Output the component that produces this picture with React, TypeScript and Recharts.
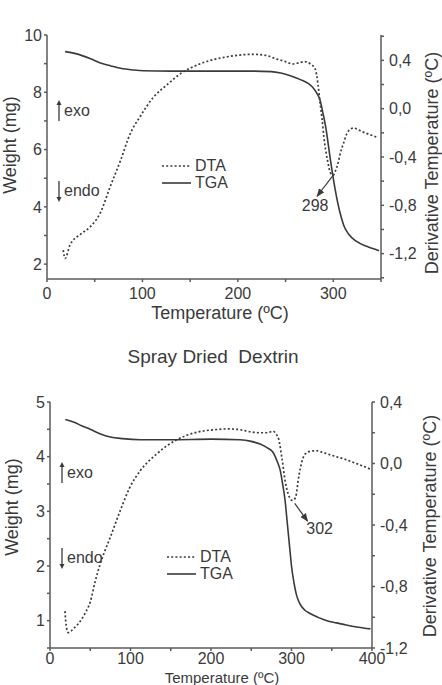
import React from 'react';
import { ComposedChart, Line, XAxis, YAxis, Legend, ReferenceLine, ReferenceDot, Label } from 'recharts';

const FONT = '"Liberation Sans", Arial, Helvetica, sans-serif';
const INK = '#3a3a3a';
const AXIS = '#5a5a5a';

// ---- upper panel (temperature ºC, value) ----
const topTGA: [number, number][] = [
  [19, 9.42], [30, 9.35], [45, 9.18], [56, 9.02], [67, 8.92], [77, 8.84], [90, 8.78],
  [101, 8.75], [130, 8.74], [170, 8.74], [210, 8.74], [235, 8.72], [245, 8.67], [255, 8.58],
  [265, 8.45], [274, 8.3], [279, 8.15], [283, 7.95], [286, 7.74], [289, 7.3], [292, 6.8],
  [297, 5.64], [302, 4.6], [307, 3.8], [311, 3.35], [316, 3.05], [324, 2.8], [335, 2.62], [348, 2.47],
];
const topDTA: [number, number][] = [
  [17, -1.17], [19, -1.24], [24, -1.13], [35, -1.04], [45, -0.98], [56, -0.86], [66, -0.65],
  [77, -0.43], [87, -0.21], [98, -0.06], [111, 0.09], [126, 0.2], [140, 0.29], [160, 0.37],
  [189, 0.43], [216, 0.45], [230, 0.44], [241, 0.41], [250, 0.39], [258, 0.37], [264, 0.38],
  [270, 0.39], [276, 0.37], [281, 0.33], [284, 0.2], [286, 0.06], [288, -0.07], [291, -0.29],
  [294, -0.43], [297, -0.53], [300, -0.55], [302, -0.52], [305, -0.45], [307, -0.38],
  [311, -0.28], [314, -0.21], [318, -0.17], [321, -0.16], [330, -0.19], [340, -0.22], [347, -0.24],
];
const topXTicks = [0, 50, 100, 150, 200, 250, 300, 350];
const topLeftTicks = [2, 3, 4, 5, 6, 7, 8, 9, 10];
const topRightTicks = [-1.4, -1.2, -1.0, -0.8, -0.6, -0.4, -0.2, 0, 0.2, 0.4, 0.6];

// ---- lower panel: Spray Dried Dextrin ----
const lowTGA: [number, number][] = [
  [19, 4.68], [30, 4.63], [40, 4.56], [50, 4.5], [62, 4.42], [75, 4.36], [90, 4.33],
  [112, 4.31], [150, 4.31], [200, 4.32], [236, 4.31], [250, 4.28], [261, 4.23], [270, 4.16],
  [277, 4.08], [282, 3.92], [286, 3.75], [289, 3.5], [292, 3.2], [295, 2.75], [298, 2.3],
  [300, 2.0], [303, 1.7], [306, 1.48], [310, 1.32], [316, 1.2], [323, 1.13], [333, 1.06],
  [344, 1.0], [356, 0.96], [368, 0.92], [383, 0.88], [398, 0.85],
];
const lowDTA: [number, number][] = [
  [18.6, -0.96], [20, -1.05], [22.7, -1.1], [30, -1.07], [37, -1.03], [44, -0.97], [50, -0.9],
  [56, -0.77], [62, -0.66], [68, -0.57], [74.5, -0.485], [87, -0.31], [99, -0.157], [112, -0.048],
  [132, 0.06], [157, 0.153], [182, 0.203], [205, 0.22], [220, 0.225], [236, 0.22], [250, 0.205],
  [261, 0.2], [270, 0.2], [277, 0.21], [281, 0.19], [284, 0.16], [288, 0.04], [292, -0.11],
  [296, -0.2], [301, -0.24], [304, -0.23], [306, -0.2], [308, -0.12], [311, -0.03], [314, 0.03],
  [317, 0.062], [324, 0.08], [331, 0.083], [340, 0.07], [352, 0.05], [365, 0.03], [377, 0.007],
  [388, -0.015], [398, -0.037],
];
const lowXTicks = [0, 50, 100, 150, 200, 250, 300, 350, 400];
const lowLeftTicks = [0.5, 1, 1.5, 2, 2.5, 3, 3.5, 4, 4.5, 5];
const lowRightTicks = [-1.2, -1.0, -0.8, -0.6, -0.4, -0.2, 0, 0.2, 0.4];

const rows = (pts: [number, number][]) => pts.map(([t, v]) => ({ t, v }));

const tickStyle = { fontSize: 16, fill: INK, fontFamily: FONT };
const everyHundred = (v: number) => (v % 100 === 0 ? String(v) : '');
const deriv = (v: number) => (Math.round(v * 10) % 4 === 0 ? v.toFixed(1).replace('.', ',') : '');

const title = (text: string, x: number, y: number, angle = 0, size = 18) => () => (
  <text
    x={x}
    y={y}
    textAnchor="middle"
    dominantBaseline="central"
    transform={angle ? `rotate(${angle} ${x} ${y})` : undefined}
    fontSize={size}
    fill={INK}
    fontFamily={FONT}
  >
    {text}
  </text>
);

const LegendBox = ({ payload }: any) => (
  <div style={{ fontFamily: FONT, fontSize: 16, color: INK, lineHeight: '17px' }}>
    {(payload || []).map((p: any) => (
      <div key={p.value} style={{ display: 'flex', alignItems: 'center' }}>
        <svg width={29} height={6}>
          <line
            x1={0} y1={3} x2={29} y2={3}
            stroke={INK} strokeWidth={1.6}
            strokeDasharray={p.value === 'DTA' ? '2 2.2' : undefined}
          />
        </svg>
        <span style={{ marginLeft: 4 }}>{p.value}</span>
      </div>
    ))}
  </div>
);

const ExoEndo = ({ x, exoY, endoY }: { x: number; exoY: number; endoY: number }) => (
  <>
    {[{ y: exoY, up: true, t: 'exo' }, { y: endoY, up: false, t: 'endo' }].map((a) => (
      <div key={a.t} style={{ position: 'absolute', left: x - 4, top: a.y - 11, display: 'flex', alignItems: 'center' }}>
        <svg width={8} height={22}>
          <line x1={4} y1={a.up ? 4 : 1} x2={4} y2={a.up ? 21 : 18} stroke={INK} strokeWidth={1.3} />
          <path d={a.up ? 'M1.5,5 L4,0 L6.5,5 Z' : 'M1.5,17 L4,22 L6.5,17 Z'} fill={INK} />
        </svg>
        <span style={{ fontFamily: FONT, fontSize: 16, color: INK, marginLeft: 1 }}>{a.t}</span>
      </div>
    ))}
  </>
);

const axisProps = { stroke: AXIS, strokeWidth: 1.5, tick: tickStyle, tickSize: 3 };

export default function App() {
  return (
    <div style={{ position: 'absolute', left: 0, top: 0, width: 442, height: 685, overflow: 'hidden', background: '#fff' }}>
      <svg width={0} height={0} style={{ position: 'absolute' }}>
        <defs>
          <marker id="tip" viewBox="0 0 10 10" refX="9" refY="5" markerWidth="7" markerHeight="7" orient="auto">
            <path d="M0,1 L10,5 L0,9 Z" fill={INK} />
          </marker>
        </defs>
      </svg>

      {/* upper panel */}
      <div style={{ position: 'absolute', left: 0, top: 0, width: 442, height: 330 }}>
        <ComposedChart width={442} height={330} margin={{ top: 35, right: 21, bottom: 21, left: 7 }}>
          <XAxis
            type="number" dataKey="t" domain={[0, 350]} ticks={topXTicks} tickFormatter={everyHundred}
            allowDataOverflow height={30} tickMargin={6} {...axisProps}
          >
            <Label content={title('Temperature (ºC)', 220, 313)} />
          </XAxis>
          <YAxis
            yAxisId="left" domain={[1.48, 10]} ticks={topLeftTicks} allowDataOverflow width={40}
            tickFormatter={(v: number) => (v % 2 === 0 ? String(v) : '')} tickMargin={2} {...axisProps}
          >
            <Label content={title('Weight (mg)', 10, 145, -90)} />
          </YAxis>
          <YAxis
            yAxisId="right" orientation="right" domain={[-1.41, 0.61]} ticks={topRightTicks} allowDataOverflow
            width={40} tickFormatter={deriv} tickMargin={5} {...axisProps}
          >
            <Label content={title('Derivative Temperature (ºC)', 432, 163, -90)} />
          </YAxis>
          <Legend
            layout="vertical" align="center" verticalAlign="middle" content={<LegendBox />}
            wrapperStyle={{ left: 162, top: 157, width: 90 }}
          />
          <Line yAxisId="right" name="DTA" data={rows(topDTA)} dataKey="v" type="monotone" stroke={INK}
            strokeWidth={1.7} strokeDasharray="2 2.2" dot={false} isAnimationActive={false} />
          <Line yAxisId="left" name="TGA" data={rows(topTGA)} dataKey="v" type="monotone" stroke={INK}
            strokeWidth={1.6} dot={false} isAnimationActive={false} />
          <ReferenceLine yAxisId="right" segment={[{ x: 299, y: -0.56 }, { x: 283, y: -0.725 }]}
            stroke={INK} strokeWidth={1.2} markerEnd="url(#tip)" ifOverflow="visible" />
          <ReferenceDot yAxisId="right" x={281} y={-0.8} r={0} fill="none" stroke="none"
            label={{ value: '298', position: 'center', fill: INK, fontSize: 16, fontFamily: FONT }} />
        </ComposedChart>
        <ExoEndo x={59} exoY={111} endoY={191} />
      </div>

      {/* lower panel */}
      <div style={{ position: 'absolute', left: 0, top: 330, width: 442, height: 355 }}>
        <div style={{ position: 'absolute', left: 213, top: 16, transform: 'translateX(-50%)', whiteSpace: 'pre',
          fontFamily: FONT, fontSize: 19, color: INK, lineHeight: '22px' }}>
          Spray Dried  Dextrin
        </div>
        <ComposedChart width={442} height={355} margin={{ top: 72, right: 30, bottom: 7, left: 10 }}>
          <XAxis
            type="number" dataKey="t" domain={[0, 400]} ticks={lowXTicks} tickFormatter={everyHundred}
            allowDataOverflow height={30} tickMargin={2} {...axisProps}
          >
            <Label content={title('Temperature (ºC)', 222, 347, 0, 15)} />
          </XAxis>
          <YAxis
            yAxisId="left" domain={[0.5, 5]} ticks={lowLeftTicks} allowDataOverflow width={40}
            tickFormatter={(v: number) => (Number.isInteger(v) ? String(v) : '')} tickMargin={2} {...axisProps}
          >
            <Label content={title('Weight (mg)', 12, 177, -90)} />
          </YAxis>
          <YAxis
            yAxisId="right" orientation="right" domain={[-1.2, 0.4]} ticks={lowRightTicks} allowDataOverflow
            width={40} tickFormatter={deriv} tickMargin={5} {...axisProps}
          >
            <Label content={title('Derivative Temperature (ºC)', 430, 196, -90)} />
          </YAxis>
          <Legend
            layout="vertical" align="center" verticalAlign="middle" content={<LegendBox />}
            wrapperStyle={{ left: 167, top: 218, width: 90 }}
          />
          <Line yAxisId="right" name="DTA" data={rows(lowDTA)} dataKey="v" type="monotone" stroke={INK}
            strokeWidth={1.7} strokeDasharray="2 2.2" dot={false} isAnimationActive={false} />
          <Line yAxisId="left" name="TGA" data={rows(lowTGA)} dataKey="v" type="monotone" stroke={INK}
            strokeWidth={1.6} dot={false} isAnimationActive={false} />
          <ReferenceLine yAxisId="right" segment={[{ x: 304, y: -0.26 }, { x: 320, y: -0.375 }]}
            stroke={INK} strokeWidth={1.2} markerEnd="url(#tip)" ifOverflow="visible" />
          <ReferenceDot yAxisId="right" x={335} y={-0.42} r={0} fill="none" stroke="none"
            label={{ value: '302', position: 'center', fill: INK, fontSize: 16, fontFamily: FONT }} />
        </ComposedChart>
        <ExoEndo x={62} exoY={143} endoY={228} />
      </div>
    </div>
  );
}
